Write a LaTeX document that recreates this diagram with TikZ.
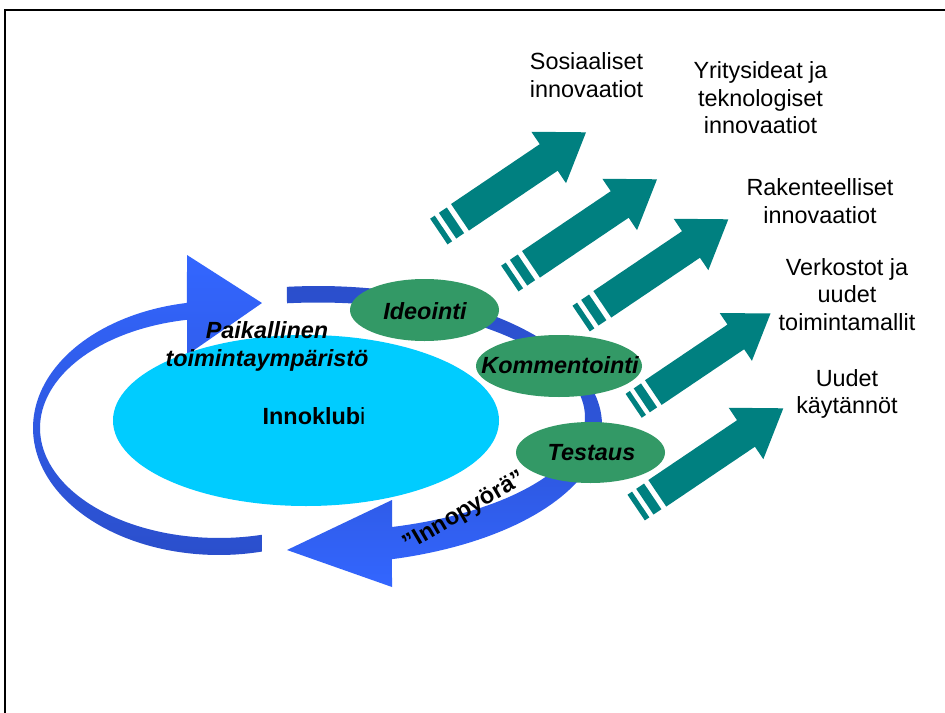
\documentclass[tikz,border=0pt]{standalone}
\usepackage{fontspec}
\setmainfont{Liberation Sans}
\usetikzlibrary{shapes.geometric}
\definecolor{blueA}{HTML}{3366FF}
\definecolor{blueB}{HTML}{2B4FCC}
\definecolor{cyanE}{HTML}{00CCFF}
\definecolor{greenE}{HTML}{339966}
\definecolor{tealA}{HTML}{008080}
\tikzset{
  txt/.style={inner sep=0pt, anchor=base, font=\fontsize{17.55}{20.85}\selectfont},
  btxt/.style={inner sep=0pt, anchor=base, font=\fontsize{17.55}{21.3}\selectfont\bfseries\itshape},
  greenell/.style={ellipse, fill=greenE, inner sep=0pt},
  tealarrow/.pic={
    \fill[tealA] (0,0) -- (-45,-31) -- (-45,-16) -- (-152,-16) -- (-152,16) -- (-45,16) -- (-45,31) -- cycle;
    \fill[tealA] (-157.5,-15.5) rectangle (-167,15.5);
    \fill[tealA] (-172,-15.5) rectangle (-177.5,15.5);
  }
}
\begin{document}
\begin{tikzpicture}[x=0.75pt, y=-0.75pt]
\useasboundingbox (0,0) rectangle (945,713);
\fill[white] (0,0) rectangle (945,713);
\draw[line width=1.5pt] (5,713) -- (5,10) -- (945,10);

% left ribbon with arrowhead pointing right
\shade[top color=blueA, bottom color=blueB]
  plot[domain=76.63:260.09, samples=90, variable=\t] ({219+186*cos(\t)},{428+127*sin(\t)})
  -- (187,255) -- (262,303) -- (187,355)
  -- plot[domain=259.7:76.1, samples=90, variable=\t] ({219+179*cos(\t)},{428+110*sin(\t)})
  -- cycle;

% right ribbon with arrowhead pointing left
\shade[top color=blueB, bottom color=blueA, middle color=blueB!75!blueA]
  plot[domain=263.73:434.9, samples=90, variable=\t] ({318+284*cos(\t)},{425+139*sin(\t)})
  -- (392,587) -- (287,550) -- (392,500)
  -- plot[domain=433.9:263.33, samples=90, variable=\t] ({318+267*cos(\t)},{417+114.5*sin(\t)})
  -- cycle;

\node[ellipse, fill=cyanE, inner sep=0pt, minimum width=289.5pt, minimum height=128.25pt] (club) at (306,420.5) {};
\node[greenell, minimum width=111.75pt, minimum height=46.5pt] (ideo) at (424.5,310) {};
\node[greenell, minimum width=124.5pt, minimum height=46.5pt] (komm) at (559,366) {};
\node[greenell, minimum width=111.75pt, minimum height=45.75pt] (test) at (590.5,452.5) {};

\node[txt] (clubT) at (314,424) {\textbf{Innoklub}i};
\node[btxt] (ideoT) at (425,319.3) {Ideointi};
\node[btxt] (kommT) at (560,373.3) {Kommentointi};
\node[btxt] (testT) at (591.5,460) {Testaus};
\node[btxt] (paik) at (267,338.3) {\begin{tabular}[t]{@{}c@{}}Paikallinen\\toimintaympäristö\end{tabular}};
\node[txt, font=\fontsize{17.55}{20.85}\selectfont\bfseries, rotate=30.5] (inno) at (467.5,517) {”Innopyörä”};

\node[txt] (sos) at (586.5,70) {\begin{tabular}[t]{@{}c@{}}Sosiaaliset\\innovaatiot\end{tabular}};
\node[txt] (yrit) at (760.5,78.3) {\begin{tabular}[t]{@{}c@{}}Yritysideat ja\\teknologiset\\innovaatiot\end{tabular}};
\node[txt] (rak) at (820,195.7) {\begin{tabular}[t]{@{}c@{}}Rakenteelliset\\innovaatiot\end{tabular}};
\node[txt] (verk) at (847,275) {\begin{tabular}[t]{@{}c@{}}Verkostot ja\\uudet\\toimintamallit\end{tabular}};
\node[txt] (uud) at (847,386) {\begin{tabular}[t]{@{}c@{}}Uudet\\käytännöt\end{tabular}};

\pic[rotate=34] at (586,132.3) {tealarrow};
\pic[rotate=34] at (657,179.3) {tealarrow};
\pic[rotate=34] at (728.3,219.3) {tealarrow};
\pic[rotate=34, scale=0.93] at (770.5,313.5) {tealarrow};
\pic[rotate=34] at (783.3,408.3) {tealarrow};
\end{tikzpicture}
\end{document}
